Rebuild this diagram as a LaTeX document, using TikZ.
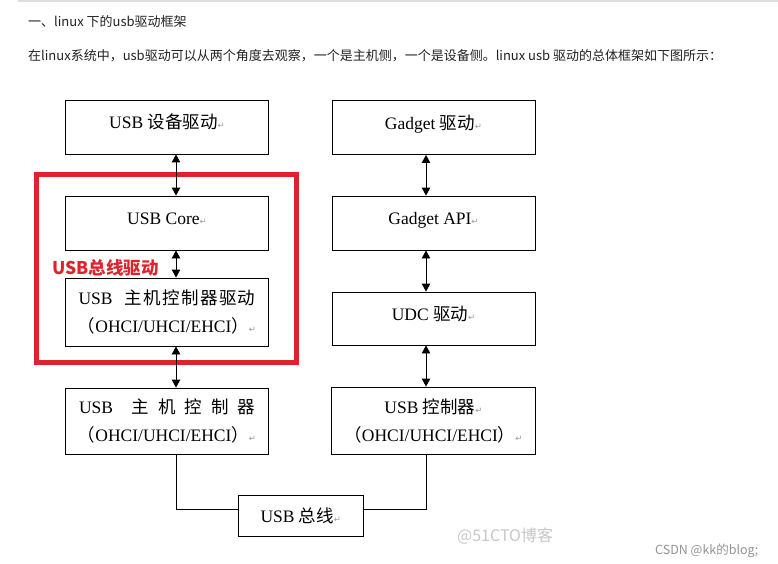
\documentclass[tikz,border=0pt]{standalone}
\usepackage{fontspec}
\setmainfont{Liberation Serif}
\newfontfamily\cjk{Noto Sans CJK SC}
\newfontfamily\symf{DejaVu Sans}
\usepackage{tikz}
\usetikzlibrary{arrows.meta,calc}
\definecolor{markRed}{RGB}{221,36,44}
\definecolor{textDark}{HTML}{222222}
\newcommand{\zh}[1]{{\cjk #1}}
\newcommand{\pmk}{{\symf\fontsize{8.5}{8.5}\selectfont\textcolor{black!40}{↵}}}

\begin{document}
\begin{tikzpicture}[
  x=1pt, y=-1pt,
  every node/.style={font=\fontsize{17.5}{28}\selectfont},
  blk/.style={
    draw, line width=0.9pt, inner sep=0pt,
    minimum width=203pt, minimum height=#1, align=center
  },
  blk/.default=54pt,
  oneline/.style={text height=12.5pt, text depth=9pt},
  dbl/.style={{Triangle[length=8pt,width=8.5pt]}-{Triangle[length=8pt,width=8.5pt]}, line width=0.9pt},
  wire/.style={line width=0.9pt},
  page/.style={font=\cjk\fontsize{13}{15}\selectfont, text=textDark, anchor=west, inner sep=0pt},
  wmark/.style={anchor=west, inner sep=0pt},
]
\useasboundingbox (0,0) rectangle (778,564);
\fill[white] (0,0) rectangle (778,564);

% === Page text above the figure ===
\draw[black!13, line width=2pt] (18,1) -- (778,1);
\node[page] (title) at (28,22) {一、linux 下的usb驱动框架};
\node[page] (intro) at (28,56) {在linux系统中，usb驱动可以从两个角度去观察，一个是主机侧，一个是设备侧。linux usb 驱动的总体框架如下图所示：};

% === Bus driver frame (drawn first, under the arrows) ===
\draw[markRed, line width=5pt] (36.5,174.5) rectangle (296.5,362.5);
\node[font=\cjk\bfseries\fontsize{17.5}{20}\selectfont, text=markRed, anchor=west, inner sep=0pt] (buslabel) at (52,268) {USB总线驱动};

% === Host side ===
\node[blk, oneline] (usbdrv) at (167,127) {USB \zh{设备驱动}\pmk};
\node[blk, oneline] (usbcore) at (167,223) {USB Core\pmk};
\node[blk=68pt] (hcd) at (167,312) {\makebox[177pt][s]{USB\hspace{12pt}\zh{主}\hfil\zh{机}\hfil\zh{控}\hfil\zh{制}\hfil\zh{器}\hfil\zh{驱}\hfil\zh{动}}\\
  \zh{（}OHCI/UHCI/EHCI\zh{）}\pmk};
\node[blk=66pt] (hostctl) at (167,421) {\makebox[176pt][s]{USB\hspace{10pt plus 1fil}\zh{主}\hfil\zh{机}\hfil\zh{控}\hfil\zh{制}\hfil\zh{器}}\\
  \zh{（}OHCI/UHCI/EHCI\zh{）}\pmk};

\draw[dbl] ([xshift=9pt]usbdrv.south) -- ([xshift=9pt]usbcore.north);
\draw[dbl] ([xshift=9pt]usbcore.south) -- ([xshift=9pt]hcd.north);
\draw[dbl] ([xshift=9pt]hcd.south) -- ([xshift=9pt]hostctl.north);

% === Device side ===
\node[blk, oneline] (gadget) at (433.5,127.5) {Gadget \zh{驱动}\pmk};
\node[blk, oneline] (gapi) at (433.5,223) {Gadget API\pmk};
\node[blk=53pt, oneline] (udc) at (433.5,318.5) {UDC \zh{驱动}\pmk};
\node[blk=67pt, minimum width=204pt] (devctl) at (433.5,420.5) {USB \zh{控制器}\pmk\\
  \zh{（}OHCI/UHCI/EHCI\zh{）}\pmk};

\draw[dbl] ([xshift=-7.5pt]gadget.south) -- ([xshift=-7.5pt]gapi.north);
\draw[dbl] ([xshift=-7.5pt]gapi.south) -- ([xshift=-7.5pt]udc.north);
\draw[dbl] ([xshift=-7.5pt]udc.south) -- ([xshift=-7.5pt]devctl.north);

% === Bus ===
\node[blk=41pt, minimum width=125pt] (bus) at (300.8,515.5) {USB \zh{总线}\pmk};
\draw[wire] ([xshift=9pt]hostctl.south) |- ([yshift=6.5pt]bus.west);
\draw[wire] ([yshift=6.5pt]bus.east) -| ([xshift=-7.5pt]devctl.south);

% watermarks
\node[wmark, font=\cjk\fontsize{16}{16}\selectfont, text=black!22] (wm51) at (457,536) {@51CTO博客};
\node[wmark, font=\cjk\fontsize{12.5}{13}\selectfont, text=black!42] (wmcsdn) at (655,551) {CSDN @kk的blog;};
\end{tikzpicture}
\end{document}
